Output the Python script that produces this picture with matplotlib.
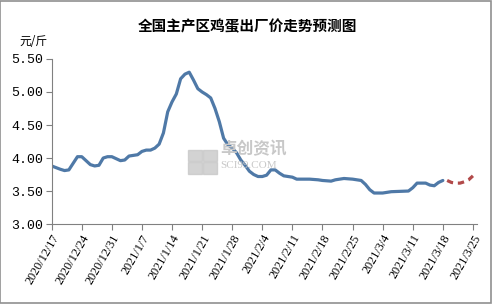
import matplotlib
matplotlib.use("Agg")
import matplotlib.pyplot as plt
import pandas as pd
from matplotlib.patches import Rectangle

plt.rcParams['font.family'] = ['Noto Sans CJK SC', 'DejaVu Sans']

actual_dates = pd.to_datetime([
    "2020-12-17", "2020-12-19", "2020-12-20", "2020-12-21", "2020-12-22", "2020-12-23",
    "2020-12-24", "2020-12-25", "2020-12-26", "2020-12-27", "2020-12-28", "2020-12-29",
    "2020-12-30", "2020-12-31", "2021-01-01", "2021-01-02", "2021-01-03", "2021-01-04",
    "2021-01-05", "2021-01-06", "2021-01-07", "2021-01-08", "2021-01-09", "2021-01-10",
    "2021-01-11", "2021-01-12", "2021-01-13", "2021-01-14", "2021-01-15", "2021-01-16",
    "2021-01-17", "2021-01-18", "2021-01-19", "2021-01-20", "2021-01-21", "2021-01-22",
    "2021-01-23", "2021-01-24", "2021-01-25", "2021-01-26", "2021-01-27", "2021-01-28",
    "2021-01-29", "2021-01-30", "2021-01-31", "2021-02-01", "2021-02-02", "2021-02-03",
    "2021-02-04", "2021-02-05", "2021-02-06", "2021-02-07", "2021-02-08", "2021-02-09",
    "2021-02-10", "2021-02-11", "2021-02-12", "2021-02-15", "2021-02-17", "2021-02-18",
    "2021-02-20", "2021-02-21", "2021-02-23", "2021-02-25", "2021-02-27", "2021-02-28",
    "2021-03-01", "2021-03-02", "2021-03-04", "2021-03-06", "2021-03-10", "2021-03-11",
    "2021-03-12", "2021-03-14", "2021-03-15", "2021-03-16", "2021-03-17", "2021-03-18",
])
actual_price = [
    3.88, 3.83, 3.81, 3.82, 3.92, 4.02,
    4.02, 3.96, 3.90, 3.88, 3.89, 4.00,
    4.02, 4.02, 3.99, 3.96, 3.97, 4.03,
    4.04, 4.05, 4.10, 4.12, 4.12, 4.15,
    4.21, 4.38, 4.70, 4.85, 4.97, 5.20,
    5.27, 5.30, 5.18, 5.05, 5.00, 4.96,
    4.91, 4.75, 4.55, 4.30, 4.20, 4.15,
    4.08, 3.97, 3.89, 3.80, 3.75, 3.72,
    3.72, 3.74, 3.82, 3.82, 3.77, 3.73,
    3.72, 3.71, 3.68, 3.68, 3.67, 3.66,
    3.65, 3.67, 3.69, 3.68, 3.66, 3.60,
    3.52, 3.47, 3.47, 3.49, 3.50, 3.55,
    3.62, 3.62, 3.59, 3.58, 3.63, 3.66,
]

# forecast
fc_dates = pd.date_range("2021-03-19", "2021-03-25", freq="D")
fc_price = [3.66, 3.63, 3.62, 3.62, 3.64, 3.67, 3.73]

tick_dates = pd.date_range("2020-12-17", "2021-03-25", freq="7D")
title = "全国主产区鸡蛋出厂价走势预测图"
unit = "元/斤"

fig = plt.figure(figsize=(4.92, 3.04), dpi=100)
ax = fig.add_axes([0.105, 0.263, 0.865, 0.543])

ax.plot(actual_dates, actual_price, color="#4f79a7", lw=2.3, solid_capstyle="round",
        solid_joinstyle="round")
ax.plot(fc_dates, fc_price, color="#b24a4a", lw=2.3, ls=(0, (2.0, 1.5)))

ax.set_ylim(3.0, 5.5)
ax.set_yticks([3.0, 3.5, 4.0, 4.5, 5.0, 5.5])
ax.yaxis.set_major_formatter(plt.FuncFormatter(lambda v, p: f"{v:.2f}"))
ax.set_xlim(pd.Timestamp("2020-12-17"), pd.Timestamp("2021-03-26"))
ax.set_xticks(tick_dates)
ax.set_xticklabels([f"{d.year}/{d.month}/{d.day}" for d in tick_dates],
                   rotation=60, ha="right", rotation_mode="anchor",
                   fontsize=8.8, family=["Liberation Serif", "DejaVu Serif"])
for lab in ax.get_yticklabels():
    lab.set_family(["Liberation Mono", "DejaVu Sans Mono"])
ax.tick_params(axis="y", labelsize=9.5, length=4, color="#808080", pad=2)
ax.tick_params(axis="x", length=4, color="#808080", pad=2)

for s in ["top", "right"]:
    ax.spines[s].set_visible(False)
for s in ["left", "bottom"]:
    ax.spines[s].set_color("#808080")
    ax.spines[s].set_linewidth(0.8)

fig.text(0.503, 0.912, title, ha="center", va="center", fontsize=10.5, fontweight="bold")
fig.text(0.04, 0.865, unit, ha="left", va="center", fontsize=8.5)

# watermark
wm = "#c8c8c8"
for (x0, y0) in [(0.382, 0.47), (0.413, 0.47), (0.382, 0.428), (0.413, 0.428)]:
    fig.patches.append(Rectangle((x0, y0), 0.028, 0.038, transform=fig.transFigure,
                                 color=wm, alpha=0.8, zorder=0))
fig.text(0.448, 0.51, "卓创资讯", ha="left", va="center", fontsize=12, color=wm,
         fontweight="bold", zorder=0)
fig.text(0.448, 0.455, "SCI99.COM", ha="left", va="center", fontsize=8, color=wm,
         family=["Liberation Serif"], zorder=0)

fig.patches.append(Rectangle((0.001, 0.002), 0.997, 0.995, transform=fig.transFigure,
                             fill=False, edgecolor="#909090", lw=1.2))

fig.savefig("out.png", dpi=100)
